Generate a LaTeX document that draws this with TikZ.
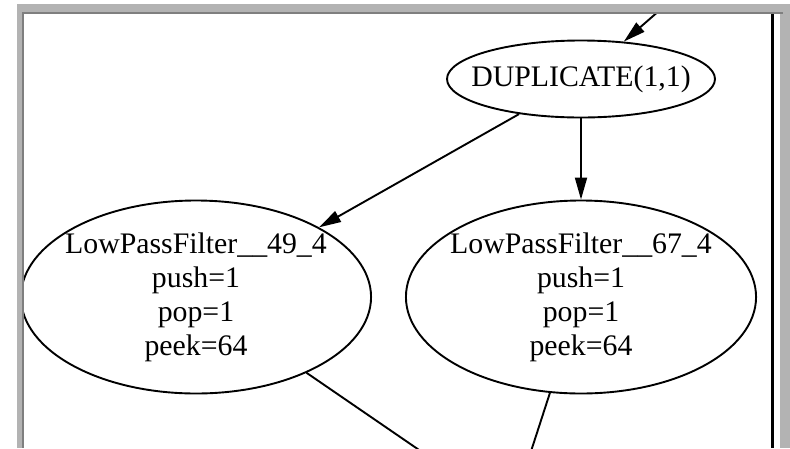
\documentclass[tikz,border=0pt]{standalone}
\usepackage{fontspec}
\setmainfont{Liberation Serif}
\usetikzlibrary{arrows.meta,shapes.geometric}

\definecolor{frameLight}{HTML}{B3B3B3}
\definecolor{frameDark}{HTML}{7F7F7F}

\tikzset{
  filt/.style={ellipse, draw, line width=1.9pt, inner xsep=-7pt, inner ysep=0pt,
    minimum width=348pt, minimum height=193pt, align=center},
  dupl/.style={ellipse, draw, line width=1.9pt, inner xsep=-16pt, inner ysep=0pt,
    minimum width=268pt, minimum height=77pt},
  edge/.style={line width=1.9pt, -{Triangle[length=22pt,width=12pt]}}
}

\begin{document}
\begin{tikzpicture}[x=1pt,y=-1pt]
         \fontsize{29.8}{34}\selectfont
         \useasboundingbox (0,0) rectangle (790,448);

         % window frame
         \fill[white] (0,0) rectangle (790,448);
         \fill[frameLight] (17,4) rectangle (790,12);
         \fill[frameLight] (17,4) rectangle (22,448);
         \fill[frameLight] (780,12) rectangle (790,448);
         \fill[frameDark] (22,12) rectangle (783,14);
         \fill[frameDark] (22,12) rectangle (24,448);
         \fill[black] (771,14) rectangle (774,448);

         \begin{scope}
            \clip (24,14) rectangle (771,448);

            \coordinate (A) at (700,-25);
            \node[dupl] at (581,79) (B) {DUPLICATE(1,1)};
            \node[filt] at (196,297) (C) {LowPassFilter\_\_49\_4\\push=1\\pop=1\\peek=64};
            \node[filt] at (581,297) (D) {LowPassFilter\_\_67\_4\\push=1\\pop=1\\peek=64};
            \coordinate (E) at (511,513);

            \draw[edge] (A) -- (B);
            \draw[edge] (B) -- (C);
            \draw[edge] (B) -- (D);
            \draw[edge] (C) -- (E);
            \draw[edge] (D) -- (E);
         \end{scope}
      \end{tikzpicture}
\end{document}
